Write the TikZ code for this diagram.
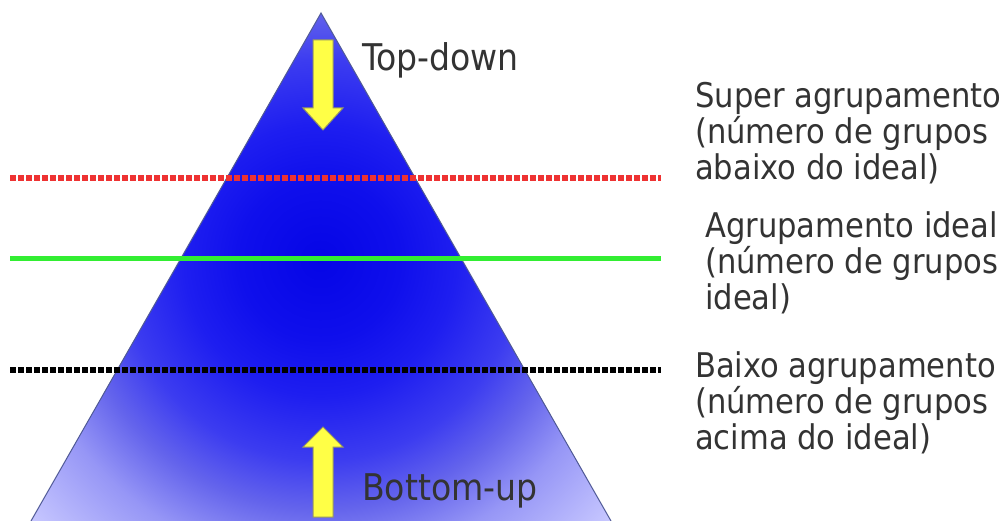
\documentclass[tikz,border=0pt]{standalone}
\usepackage{fontspec}
\setmainfont{DejaVu Sans Condensed}
\definecolor{txt}{HTML}{333333}
\definecolor{pA}{RGB}{5,5,230}
\definecolor{pB}{RGB}{15,15,236}
\definecolor{pC}{RGB}{30,30,240}
\definecolor{pD}{RGB}{60,60,240}
\definecolor{pE}{RGB}{100,100,236}
\definecolor{pF}{RGB}{150,150,246}
\definecolor{pG}{RGB}{200,200,255}
\definecolor{edgecol}{RGB}{80,90,150}
\definecolor{arrfill}{RGB}{255,255,70}
\definecolor{arrline}{RGB}{150,150,100}
\definecolor{redl}{RGB}{238,50,50}
\definecolor{greenl}{RGB}{50,238,50}
\pgfdeclareradialshading{pyrrad}{\pgfpoint{0bp}{0bp}}{color(0bp)=(pA); color(5bp)=(pB); color(8.5bp)=(pC); color(12.5bp)=(pD); color(15.6bp)=(pE); color(19bp)=(pF); color(24.4bp)=(pG); color(50bp)=(pG)}
\tikzset{
  lbl/.style={anchor=base west, text=txt, inner sep=0pt, font=\fontsize{36.8}{37}\selectfont},
  side/.style={anchor=base west, text=txt, inner sep=0pt, align=left, font=\fontsize{34}{36}\selectfont},
  dotline/.style={line width=5.5pt, dash pattern=on 5.5pt off 2.5pt},
  arrowshape/.style={fill=arrfill, draw=arrline, line width=1pt, line join=miter}
}
\begin{document}
\begin{tikzpicture}[x=1pt,y=-1pt]
\useasboundingbox (0,0) rectangle (1008,521);
\coordinate (apex) at (321,13);
\coordinate (bl) at (31,521);
\coordinate (br) at (611,521);
\begin{scope}
  \clip (apex) -- (bl) -- (br) -- cycle;
  \shade[shading=pyrrad] (320,260) circle[radius=400];
\end{scope}
\draw[edgecol, line width=1pt] (bl) -- (apex) -- (br);
% lines
\coordinate (r1) at (10,178); \coordinate (r2) at (661,178);
\coordinate (g1) at (10,258); \coordinate (g2) at (661,258);
\coordinate (k1) at (10,370); \coordinate (k2) at (661,370);
\draw[dotline, redl] (r1) -- (r2);
\draw[greenl, line width=5pt] (g1) -- (g2);
\draw[dotline, black] (k1) -- (k2);
% arrows
\draw[arrowshape] (313,40) -- (333,40) -- (333,108) -- (343,108) -- (323,130) -- (303,108) -- (313,108) -- cycle;
\draw[arrowshape] (313,517) -- (333,517) -- (333,447) -- (343,447) -- (323,427) -- (303,447) -- (313,447) -- cycle;
% labels
\node[lbl] (td) at (362,71) {Top-down};
\node[lbl] (bu) at (362,500) {Bottom-up};
\node[side] (sup) at (695,180) {Super agrupamento\\(número de grupos\\abaixo do ideal)};
\node[side] (ide) at (705,309) {Agrupamento ideal\\(número de grupos\\ideal)};
\node[side] (bai) at (695,449) {Baixo agrupamento\\(número de grupos\\acima do ideal)};
\end{tikzpicture}
\end{document}
